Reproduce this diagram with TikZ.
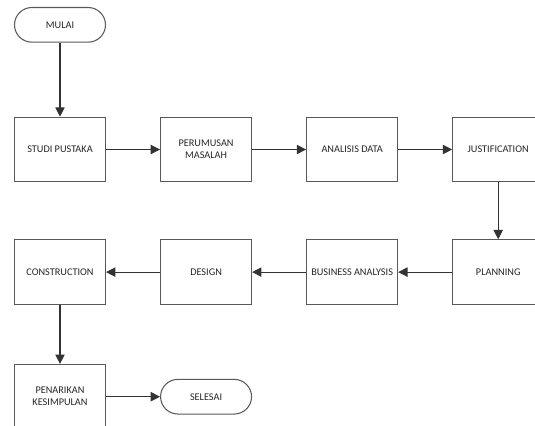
\documentclass[tikz,border=0pt]{standalone}
\usepackage{fontspec}
\setmainfont{Carlito}
\usetikzlibrary {positioning}
\usetikzlibrary{arrows.meta}

\begin{document}
\begin{tikzpicture}[x=0.75pt,y=-0.75pt,
    node distance=42.75pt and 40.5pt,
    >={Triangle[length=7pt,width=7pt]},
    process/.style={
      % The shape:
      rectangle,minimum width=68.25pt,minimum height=48.4pt,
      % Border
      thick,draw=black!65,
      % Text
      align=center,text=black!85,font=\fontsize{7.7}{9}\selectfont
      },
    terminal/.style={process,minimum height=26pt,rounded corners=13pt}]
  \useasboundingbox (0,0) rectangle (535,425);
  \node (studi-pustaka) [process] at (60,149.5) {STUDI PUSTAKA};
  \node (mulai) [terminal, above=55.5pt of studi-pustaka] {MULAI};
  \node (perumusan) [process, right=of studi-pustaka] {PERUMUSAN\\MASALAH};
  \node (analisis) [process, right=of perumusan] {ANALISIS DATA};
  \node (justification) [process, right=of analisis] {JUSTIFICATION};
  \node (planning) [process, below=of justification] {PLANNING};
  \node (business) [process, left=of planning] {BUSINESS ANALYSIS};
  \node (design) [process, left=of business] {DESIGN};
  \node (construction) [process, left=of design] {CONSTRUCTION};
  \node (penarikan) [process, below=44.25pt of construction] {PENARIKAN\\KESIMPULAN};
  \node (selesai) [terminal, right=of penarikan] {SELESAI};
  \draw [->,thick,draw=black!80] (mulai) to (studi-pustaka);
  \draw [->,thick,draw=black!80] (studi-pustaka) to (perumusan);
  \draw [->,thick,draw=black!80] (perumusan) to (analisis);
  \draw [->,thick,draw=black!80] (analisis) to (justification);
  \draw [->,thick,draw=black!80] (justification) to (planning);
  \draw [->,thick,draw=black!80] (planning) to (business);
  \draw [->,thick,draw=black!80] (business) to (design);
  \draw [->,thick,draw=black!80] (design) to (construction);
  \draw [->,thick,draw=black!80] (construction) to (penarikan);
  \draw [->,thick,draw=black!80] (penarikan) to (selesai);
\end{tikzpicture}
\end{document}
